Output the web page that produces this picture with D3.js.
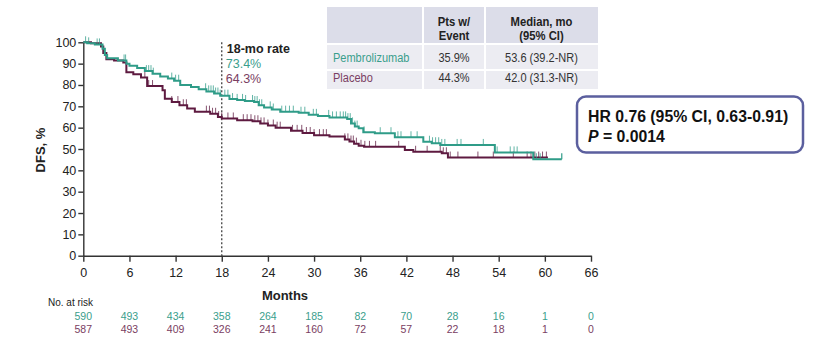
<!DOCTYPE html>
<html><head><meta charset="utf-8">
<script src="https://cdn.jsdelivr.net/npm/d3@7"></script>
<style>body{margin:0;background:#fff}svg{display:block;font-family:"Liberation Sans",Arial,sans-serif}</style>
</head><body><svg id="c" width="826" height="364"></svg>
<script>
const xTicks = [0,6,12,18,24,30,36,42,48,54,60,66];
const yTicks = [0,10,20,30,40,50,60,70,80,90,100];
const seriesNames = ["Pembrolizumab","Placebo"];
const riskPembro = [590,493,434,358,264,185,82,70,28,16,1,0];
const riskPlacebo = [587,493,409,326,241,160,72,57,22,18,1,0];
const pembroTimes = [0,0.5,1.5,2.5,2.8,3.1,4.5,5.6,6,7,8,9,10,11,11.8,12.6,14,15,16,17,17.8,19,20,21,22.2,22.8,23.5,24.5,25.6,28,29.3,30.5,32,34.3,34.8,35.3,35.8,36.4,37.9,40.5,44.2,45.3,46.4,53.5,58.5,62.2];
const pembroValues = [100,99.5,99,97,94,92.5,91.5,90,89,88,86.5,85.3,84,83,82,80,79,78,77,76,75,73.4,73,72.5,72,70.5,69.5,68.5,67.5,67,66,65.5,64.8,64,62,60.5,59.7,57.8,57.4,55.5,53.4,52.7,51.9,48.4,45.2,45.2];
const placeboTimes = [0,1,2.3,2.6,3,4,5.2,5.6,6.5,7.5,8.3,10.3,10.6,11.5,12.5,13.5,14.5,16.5,17.5,18,20,22,23,24,25,27,28.5,30,32,34,34.6,35.2,35.8,36.5,41.8,42.9,46.6,47.4,60.4];
const placeboValues = [100,99.5,98,95,92,91.5,90.5,86,85,83.5,79.5,77.5,73.5,72,70.5,69,67.5,66.5,65,64.3,63.5,63,62,61,60,58.5,57.5,56.5,55.8,54.5,53.5,52.5,51.5,51,49.5,48.7,48,46,46];
const pembroCensor = [0.3,0.7,1.8,2.1,5.3,5.5,8.2,8.5,8.8,9.1,11.5,12,12.4,15.9,16.3,16.6,16.9,17.2,17.5,17.8,18.4,18.8,19.4,20,20.7,21.1,22,22.3,22.6,22.9,23.2,24.3,24.7,25.8,26.3,26.8,27.3,28.3,28.8,29.9,30.3,31.9,32.4,32.9,33.4,33.8,34.1,34.4,34.7,35,35.3,35.6,36.5,38.6,40,40.9,41.3,42.6,43.4,45,45.4,45.8,46.2,46.6,47,48.6,49.1,52,53.8,55.5,56,56.4,58.5,58.9,59.4];
const placeboCensor = [8,8.5,9,11.5,12.3,13,13.4,16,16.4,16.8,17.2,17.6,18,18.8,19.5,20.8,21.3,21.8,22.3,22.7,23.1,23.5,24,24.7,25.2,25.6,27.2,27.8,28.4,29,29.5,30,30.7,31.2,31.6,34,34.4,34.8,35.1,35.5,36.1,36.6,37.2,38,41,43.2,44.7,46.4,46.8,47.2,47.7,48.7,51.3,53.3,55.9,57.7,58.2,58.7,59.2,59.7,60.2];
const tableHeader = ["", "Pts w/\nEvent", "Median, mo\n(95% CI)"];
const tableRows = [["Pembrolizumab","35.9%","53.6 (39.2-NR)"],["Placebo","44.3%","42.0 (31.3-NR)"]];
const rate18 = ["73.4%","64.3%"];

const TEAL = "#2f9c88", MAROON = "#5e1a40";
const TEAL_T = "#3a9e8c", MAROON_T = "#7a3e62";
const svg = d3.select("#c");
svg.append("rect").attr("width",826).attr("height",364).attr("fill","#fff");

const x = d3.scaleLinear().domain([0,66]).range([83.3,591]);
const y = d3.scaleLinear().domain([0,100]).range([255.7,42.3]);

// condensed text helper (reference font is narrower than Arial)
function cond(sel, f){ const n = sel.node(); const w = n.getComputedTextLength(); sel.attr("textLength", w*f).attr("lengthAdjust","spacingAndGlyphs"); return sel; }

// table
const tx = [327,423,485,598], ty = [7,44,70,89];
const tg = svg.append("g");
tg.append("rect").attr("x",tx[0]).attr("y",ty[0]).attr("width",tx[3]-tx[0]).attr("height",ty[1]-ty[0]).attr("fill","#dcdde9");
tg.append("rect").attr("x",tx[0]).attr("y",ty[1]).attr("width",tx[3]-tx[0]).attr("height",ty[3]-ty[1]).attr("fill","#ececf2");
[tx[1],tx[2]].forEach(v=>tg.append("line").attr("x1",v).attr("x2",v).attr("y1",ty[0]).attr("y2",ty[3]).attr("stroke","#fff").attr("stroke-width",2));
[ty[1],ty[2]].forEach(v=>tg.append("line").attr("x1",tx[0]).attr("x2",tx[3]).attr("y1",v).attr("y2",v).attr("stroke","#fff").attr("stroke-width",2));
const colC = [333,(tx[1]+tx[2])/2,(tx[2]+tx[3])/2];
tableHeader.forEach((h,i)=>{
  if(!h) return;
  h.split("\n").forEach((ln,j)=>{
    cond(tg.append("text").attr("x",colC[i]).attr("y",26+j*13.5).attr("text-anchor","middle")
      .attr("font-size",12.5).attr("font-weight","bold").attr("fill","#222").text(ln), 0.9);
  });
});
tableRows.forEach((r,ri)=>{
  r.forEach((c,ci)=>{
    cond(tg.append("text").attr("x",colC[ci]).attr("y",[61.5,82.3][ri]).attr("text-anchor",ci===0?"start":"middle")
      .attr("font-size",12.5).attr("fill",ci===0?(ri===0?TEAL_T:MAROON_T):"#333").text(c), 0.88);
  });
});

// axes
const ya = svg.append("g").attr("transform",`translate(${x(0)},0)`)
  .call(d3.axisLeft(y).tickValues(yTicks).tickSize(5).tickPadding(2).tickSizeOuter(0));
const xa = svg.append("g").attr("transform",`translate(0,${y(0)})`)
  .call(d3.axisBottom(x).tickValues(xTicks).tickSize(6).tickPadding(6).tickSizeOuter(0));
[ya,xa].forEach(g=>{
  g.select(".domain").attr("stroke","#333").attr("stroke-width",1.4);
  g.selectAll(".tick line").attr("stroke","#333").attr("stroke-width",1.4);
  g.selectAll(".tick text").attr("font-size",12.5).attr("fill","#222").attr("font-family","Liberation Sans, Arial, sans-serif");
});
svg.append("text").attr("transform","translate(45,150) rotate(-90)").attr("text-anchor","middle")
  .attr("font-size",13).attr("font-weight","bold").attr("fill","#222").text("DFS, %");
svg.append("text").attr("x",285).attr("y",300).attr("text-anchor","middle")
  .attr("font-size",13).attr("font-weight","bold").attr("fill","#222").text("Months");

// 18-mo dashed line
svg.append("line").attr("x1",x(18)).attr("x2",x(18)).attr("y1",y(100)).attr("y2",y(0))
  .attr("stroke","#333").attr("stroke-width",1.2).attr("stroke-dasharray","2,2");
svg.append("text").attr("x",x(18)+5).attr("y",53).attr("font-size",12.5).attr("font-weight","bold").attr("fill","#222").text("18-mo rate");
svg.append("text").attr("x",x(18)+4).attr("y",68).attr("font-size",12.5).attr("fill",TEAL_T).text(rate18[0]);
svg.append("text").attr("x",x(18)+4).attr("y",83).attr("font-size",12.5).attr("fill",MAROON_T).text(rate18[1]);

// curves
function stepVal(times, vals, t){ let v = vals[0]; for(let i=0;i<times.length;i++){ if(times[i]<=t) v = vals[i]; } return v; }
const line = d3.line().x(d=>x(d[0])).y(d=>y(d[1])).curve(d3.curveStepAfter);
const series = [
  {t:placeboTimes,v:placeboValues,c:placeboCensor,col:MAROON},
  {t:pembroTimes,v:pembroValues,c:pembroCensor,col:TEAL}
];
series.forEach(s=>{
  svg.append("path").attr("d",line(s.t.map((t,i)=>[t,s.v[i]]))).attr("fill","none").attr("stroke",s.col).attr("stroke-width",2);
  svg.append("g").selectAll("line").data(s.c).join("line")
    .attr("x1",d=>x(d)).attr("x2",d=>x(d))
    .attr("y1",d=>y(stepVal(s.t,s.v,d))).attr("y2",d=>y(stepVal(s.t,s.v,d))-6)
    .attr("stroke",s.col).attr("stroke-width",1).attr("opacity",0.75);
});
svg.append("line").attr("x1",x(pembroTimes[pembroTimes.length-1])).attr("x2",x(pembroTimes[pembroTimes.length-1]))
  .attr("y1",y(pembroValues[pembroValues.length-1])).attr("y2",y(pembroValues[pembroValues.length-1])-6).attr("stroke",TEAL).attr("stroke-width",1.2);

// HR box
svg.append("rect").attr("x",577).attr("y",96.5).attr("width",226).attr("height",56).attr("rx",9)
  .attr("fill","#fff").attr("stroke","#5b5f9e").attr("stroke-width",2.5);
svg.append("text").attr("x",588).attr("y",122).attr("font-size",15.8).attr("font-weight","bold").attr("fill","#111").text("HR 0.76 (95% CI, 0.63-0.91)");
const pt = svg.append("text").attr("x",588).attr("y",142).attr("font-size",15.8).attr("font-weight","bold").attr("fill","#111");
pt.append("tspan").attr("font-style","italic").text("P");
pt.append("tspan").text(" = 0.0014");

// risk table
svg.append("text").attr("x",48).attr("y",306).attr("font-size",10).attr("fill","#222").text("No. at risk");
svg.append("g").selectAll("text").data(riskPembro).join("text")
  .attr("x",(d,i)=>x(xTicks[i])).attr("y",320).attr("text-anchor","middle").attr("font-size",10.5).attr("fill",TEAL_T).text(d=>d);
svg.append("g").selectAll("text").data(riskPlacebo).join("text")
  .attr("x",(d,i)=>x(xTicks[i])).attr("y",333).attr("text-anchor","middle").attr("font-size",10.5).attr("fill",MAROON_T).text(d=>d);
</script></body></html>
